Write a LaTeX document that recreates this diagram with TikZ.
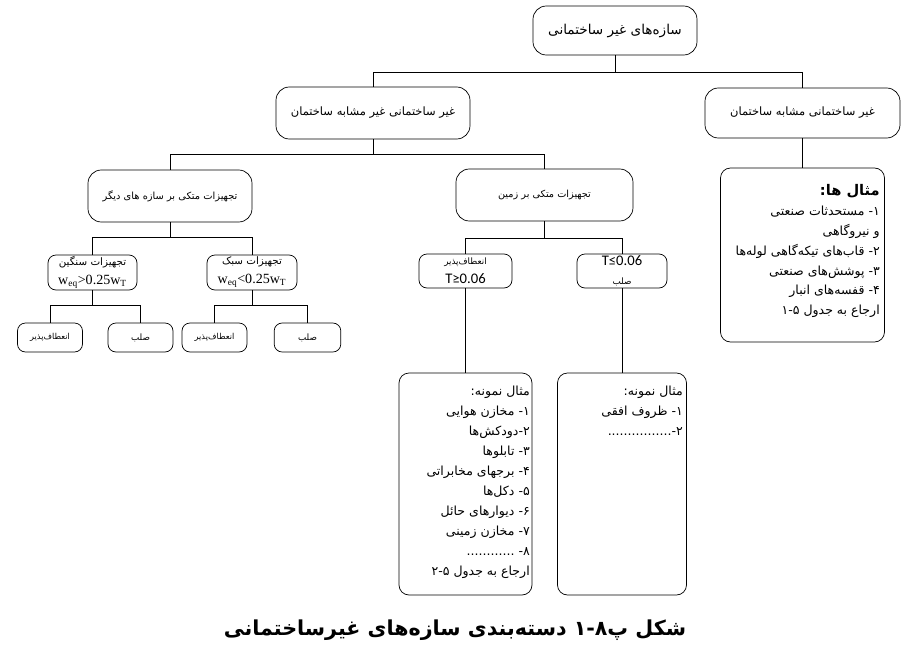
\documentclass[tikz,border=0pt]{standalone}
\usepackage{fontspec}
\newfontfamily\farsi[Script=Arabic]{DejaVu Sans}
\newfontfamily\tms{Liberation Serif}
\newfontfamily\clb{Carlito}
\TeXXeTstate=1
\newcommand{\fa}[1]{\beginR #1\endR}

\begin{document}
\begin{tikzpicture}[x=0.3mm,y=-0.3mm]
	\tikzstyle{Box}		= [draw, rounded corners=4mm, line width=0.6pt, inner sep=0pt, align=center]
	\tikzstyle{Small}	= [draw, rounded corners=2.4mm, line width=0.6pt, inner sep=0pt, align=center]
	\tikzstyle{List}	= [draw, rounded corners=3mm, line width=0.6pt, inner sep=0pt]
	\tikzstyle{ListText}	= [anchor=north east, inner sep=0pt, align=right, font=\farsi\fontsize{10.7}{17}\selectfont]
	\tikzstyle{Link}	= [line width=0.6pt]

	\useasboundingbox (0,0) rectangle (917,663);

	\node (top) at (615,30.5) [Box, minimum width=49.2mm, minimum height=14.7mm, font=\farsi\fontsize{11.6}{14}\selectfont] {\fa{سازه‌های غیر ساختمانی}};
	\node (gen) at (373,113) [Box, minimum width=58.2mm, minimum height=15.6mm, font=\farsi\fontsize{9.8}{12}\selectfont] {\fa{غیر ساختمانی غیر مشابه ساختمان}};
	\node (sim) at (802.5,113) [Box, minimum width=58.5mm, minimum height=15mm, font=\farsi\fontsize{9.8}{12}\selectfont] {\fa{غیر ساختمانی مشابه ساختمان}};
	\node (exbox) at (802.5,255) [List, minimum width=49.2mm, minimum height=52.2mm] {};
	\node (other) at (170,196) [Box, minimum width=49.2mm, minimum height=15.6mm, font=\farsi\fontsize{8.4}{11}\selectfont] {\fa{تجهیزات متکی بر سازه های دیگر}};
	\node (ground) at (544.5,195) [Box, minimum width=53.1mm, minimum height=15.6mm, font=\farsi\fontsize{8.3}{11}\selectfont] {\fa{تجهیزات متکی بر زمین}};

	\node (heavy) at (92.5,272.5) [Small, minimum width=26.7mm, minimum height=10.5mm, font=\farsi\fontsize{8.8}{16}\selectfont] {\fa{تجهیزات سنگین}\\{\tms\fontsize{12}{16}\selectfont w\textsubscript{eq}>0.25w\textsubscript{T}}};
	\node (light) at (252,272.5) [Small, minimum width=27mm, minimum height=10.5mm, font=\farsi\fontsize{8.8}{16}\selectfont] {\fa{تجهیزات سبک}\\{\tms\fontsize{12}{16}\selectfont w\textsubscript{eq}<0.25w\textsubscript{T}}};
	\node (hflex) at (50,337.5) [Small, minimum width=19.5mm, minimum height=8.7mm, font=\farsi\fontsize{7}{10}\selectfont] {\fa{انعطاف‌پذیر}};
	\node (hrigid) at (140.5,337.5) [Small, minimum width=19.5mm, minimum height=8.7mm, font=\farsi\fontsize{7.5}{10}\selectfont] {\fa{صلب}};
	\node (lflex) at (214.5,337.5) [Small, minimum width=19.5mm, minimum height=8.7mm, font=\farsi\fontsize{7}{10}\selectfont] {\fa{انعطاف‌پذیر}};
	\node (lrigid) at (307.5,337.5) [Small, minimum width=20mm, minimum height=8.7mm, font=\farsi\fontsize{7.5}{10}\selectfont] {\fa{صلب}};

	\node (gflex) at (465.5,271) [Small, minimum width=27.9mm, minimum height=10.2mm, font=\farsi\fontsize{7.5}{16}\selectfont] {\fa{انعطاف‌پذیر}\\{\clb\fontsize{12.5}{16}\selectfont T≥0.06}};
	\node (grigid) at (622,271) [Small, minimum width=27mm, minimum height=10.2mm, font=\farsi\fontsize{7.5}{16}\selectfont] {{\clb\fontsize{12.5}{16}\selectfont T≤0.06}\\\fa{صلب}};
	\node (sampleA) at (465.5,484) [List, minimum width=39.9mm, minimum height=66.6mm] {};
	\node (sampleB) at (622,484) [List, minimum width=38.7mm, minimum height=66.6mm] {};

	% list texts
	\node (exlist) at (880,184) [ListText] {\fa{{\bfseries\fontsize{12.5}{17}\selectfont مثال ها:}}\\\fa{۱- مستحدثات صنعتی}\\\fa{و نیروگاهی}\\\fa{۲- قاب‌های تیکه‌گاهی لوله‌ها}\\\fa{۳- پوشش‌های صنعتی}\\\fa{۴- قفسه‌های انبار}\\\fa{ارجاع به جدول ۱-۵}};
	\node (listA) at (530,386) [ListText] {\fa{مثال نمونه:}\\\fa{۱- مخازن هوایی}\\\fa{۲-دودکش‌ها}\\\fa{۳- تابلوها}\\\fa{۴- برجهای مخابراتی}\\\fa{۵- دکل‌ها}\\\fa{۶- دیوارهای حائل}\\\fa{۷- مخازن زمینی}\\\fa{۸- ............}\\\fa{ارجاع به جدول ۲-۵}};
	\node (listB) at (683,386) [ListText] {\fa{مثال نمونه:}\\\fa{۱- ظروف افقی}\\\fa{۲-................}};

	\node (title) at (455,630) [font=\farsi\bfseries\fontsize{17.6}{20}\selectfont] {\fa{شکل پ۸-۱ دسته‌بندی سازه‌های غیرساختمانی}};

	% tree links
	\draw [Link] (top.south) -- ++(0,17) coordinate (b1) -| (gen.north);
	\draw [Link] (b1) -| (sim.north);
	\draw [Link] (sim.south) -- (exbox.north);
	\draw [Link] (gen.south) -- ++(0,15) coordinate (b2) -| (other.north);
	\draw [Link] (b2) -| (ground.north);
	\draw [Link] (other.south) -- ++(0,15) coordinate (b3) -| (heavy.north);
	\draw [Link] (b3) -| (light.north);
	\draw [Link] (heavy.south) -- ++(0,15) coordinate (b4) -| (hflex.north);
	\draw [Link] (b4) -| (hrigid.north);
	\draw [Link] (light.south) -- ++(0,15) coordinate (b5) -| (lflex.north);
	\draw [Link] (b5) -| (lrigid.north);
	\draw [Link] (ground.south) -- ++(0,17) coordinate (b6) -| (gflex.north);
	\draw [Link] (b6) -| (grigid.north);
	\draw [Link] (gflex.south) -- (sampleA.north);
	\draw [Link] (grigid.south) -- (sampleB.north);
\end{tikzpicture}
\end{document}
